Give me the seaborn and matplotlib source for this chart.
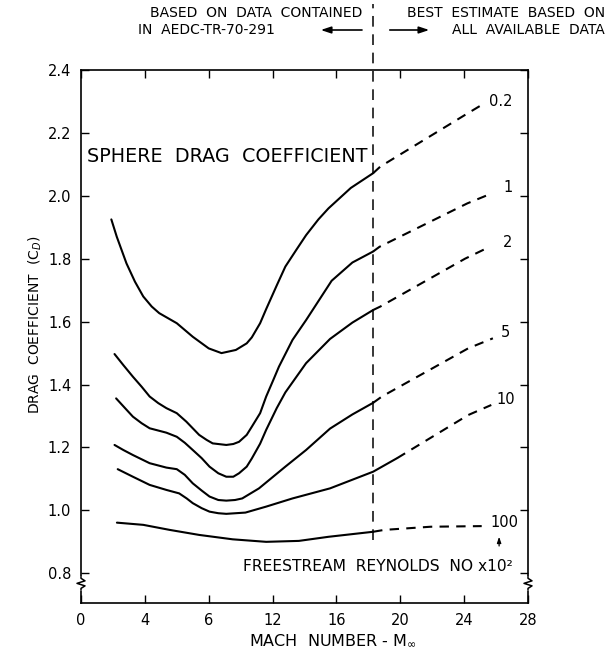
import matplotlib
matplotlib.use("Agg")
import matplotlib.pyplot as plt
import pandas as pd
import seaborn as sns

W, H = 613, 655

# Freestream Reynolds number (x10^2) of each curve
re_labels = ["0.2", "1", "2", "5", "10", "100"]

# Solid curves: data contained in AEDC-TR-70-291
mach_re02 = [1.9, 2.24, 2.85, 3.38, 3.9, 4.43, 4.9, 6.0, 7.0, 8.0, 8.8, 9.7, 10.38, 10.7,
             11.22, 11.6, 12.26, 12.8, 13.51, 14.1, 14.87, 15.5, 16.9, 18.3]
cd_re02 = [1.925, 1.870, 1.785, 1.727, 1.68, 1.648, 1.627, 1.595, 1.552, 1.515, 1.50, 1.51, 1.531, 1.55,
           1.595, 1.64, 1.715, 1.775, 1.83, 1.875, 1.925, 1.960, 2.025, 2.072]

mach_re1 = [2.1, 2.65, 3.25, 3.8, 4.3, 4.84, 5.35, 6.0, 6.6, 7.4, 7.87, 8.25, 9.1, 9.54, 9.9,
            10.38, 10.7, 11.22, 11.6, 12.05, 12.4, 13.25, 14.1, 15.7, 17.0, 18.3]
cd_re1 = [1.497, 1.462, 1.425, 1.393, 1.362, 1.341, 1.325, 1.309, 1.282, 1.240, 1.224, 1.213, 1.208, 1.211, 1.218,
          1.240, 1.266, 1.309, 1.362, 1.415, 1.457, 1.542, 1.605, 1.73, 1.788, 1.823]

mach_re2 = [2.2, 2.76, 3.25, 3.8, 4.3, 5.35, 6.0, 6.5, 7.0, 7.56, 8.05, 8.6, 9.1, 9.54, 9.9,
            10.38, 10.7, 11.22, 11.6, 12.26, 12.8, 14.1, 15.6, 17.0, 18.3]
cd_re2 = [1.356, 1.325, 1.298, 1.277, 1.261, 1.247, 1.234, 1.215, 1.192, 1.166, 1.139, 1.118, 1.107, 1.107, 1.118,
          1.139, 1.165, 1.212, 1.256, 1.325, 1.375, 1.468, 1.545, 1.597, 1.637]

mach_re5 = [2.1, 2.65, 3.25, 4.3, 5.35, 6.0, 6.5, 7.0, 7.56, 8.05, 8.6, 9.1, 9.65, 10.1,
            11.15, 12.8, 14.1, 15.6, 17.0, 18.3]
cd_re5 = [1.208, 1.192, 1.176, 1.150, 1.136, 1.131, 1.113, 1.086, 1.063, 1.044, 1.033, 1.031, 1.033, 1.038,
          1.070, 1.139, 1.192, 1.26, 1.305, 1.342]

mach_re10 = [2.3, 3.25, 4.3, 5.35, 6.15, 6.62, 7.0, 7.56, 8.05, 8.6, 9.1, 10.3, 11.6, 13.25,
             15.6, 18.3, 19.8]
cd_re10 = [1.131, 1.107, 1.081, 1.065, 1.054, 1.038, 1.023, 1.007, 0.996, 0.991, 0.989, 0.993, 1.012, 1.038,
           1.07, 1.123, 1.166]

mach_re100 = [2.25, 3.9, 5.55, 7.4, 9.5, 11.6, 13.65, 15.5, 18.3]
cd_re100 = [0.961, 0.954, 0.938, 0.922, 0.908, 0.900, 0.903, 0.916, 0.932]

# Dashed continuations: best estimate based on all available data
mach_re02_est = [18.3, 18.75, 24.05, 25.1]
cd_re02_est = [2.072, 2.093, 2.257, 2.289]

mach_re1_est = [18.3, 18.7, 24.2, 25.5]
cd_re1_est = [1.823, 1.838, 1.976, 2.003]

mach_re2_est = [18.3, 18.75, 24.05, 25.6]
cd_re2_est = [1.637, 1.648, 1.80, 1.838]

mach_re5_est = [18.3, 18.85, 24.25, 25.8]
cd_re5_est = [1.342, 1.362, 1.515, 1.547]

mach_re10_est = [19.8, 24.25, 25.7]
cd_re10_est = [1.166, 1.303, 1.335]

mach_re100_est = [18.3, 19.0, 21.9, 25.1]
cd_re100_est = [0.932, 0.938, 0.948, 0.950]

x_ticks = [0, 4, 8, 12, 16, 20, 24, 28]
x_tick_labels = ["0", "4", "6", "12", "16", "20", "24", "28"]
y_ticks = [0.8, 1.0, 1.2, 1.4, 1.6, 1.8, 2.0, 2.2, 2.4]
y_tick_labels = ["0.8", "1.0", "1.2", "1.4", "1.6", "1.8", "2.0", "2.2", "2.4"]

# Position of each curve's Reynolds-number label
label_mach = [25.55, 26.75, 26.7, 26.6, 26.6, 26.5]
label_cd = [2.30, 2.028, 1.853, 1.567, 1.351, 0.963]

boundary_mach = 18.3

solid = [(mach_re02, cd_re02), (mach_re1, cd_re1), (mach_re2, cd_re2),
         (mach_re5, cd_re5), (mach_re10, cd_re10), (mach_re100, cd_re100)]
estimate = [(mach_re02_est, cd_re02_est), (mach_re1_est, cd_re1_est),
            (mach_re2_est, cd_re2_est), (mach_re5_est, cd_re5_est),
            (mach_re10_est, cd_re10_est), (mach_re100_est, cd_re100_est)]

rows = []
for lab, (m, c) in zip(re_labels, solid):
    rows += [dict(re=lab, part="measured", mach=a, cd=b) for a, b in zip(m, c)]
for lab, (m, c) in zip(re_labels, estimate):
    rows += [dict(re=lab, part="estimate", mach=a, cd=b) for a, b in zip(m, c)]
df = pd.DataFrame(rows)

sns.set_style("ticks")
plt.rcParams["font.family"] = ["DejaVu Sans"]
plt.rcParams["mathtext.fontset"] = "dejavusans"
plt.rcParams["text.color"] = "black"
plt.rcParams["axes.labelcolor"] = "black"
plt.rcParams["xtick.color"] = "black"
plt.rcParams["ytick.color"] = "black"

fig = plt.figure(figsize=(W / 100, H / 100), dpi=100)
fig.patch.set_facecolor("white")
ax = fig.add_axes([81 / W, 1 - 603.3 / H, 447 / W, 533.3 / H])

sns.lineplot(data=df, x="mach", y="cd", hue="re", style="part",
             hue_order=re_labels, palette={k: "black" for k in re_labels},
             dashes={"measured": "", "estimate": (4.5, 3.5)},
             estimator=None, linewidth=1.5, legend=False, ax=ax)

ax.set_xlim(0, 28)
ax.set_ylim(0.7046, 2.4)
ax.set_xticks(x_ticks)
ax.set_xticklabels(x_tick_labels)
ax.set_yticks(y_ticks)
ax.set_yticklabels(y_tick_labels)
ax.tick_params(direction="in", length=6, width=1.0, top=True, right=True,
               labelsize=10.5, pad=7, colors="black")
ax.set_xlabel("")
ax.set_ylabel("")
for s in ax.spines.values():
    s.set_linewidth(1.2)
    s.set_color("black")

# boundary between report data and estimates
ax.plot([boundary_mach, boundary_mach], [0.905, 2.61], color="black", lw=1.1,
        dashes=(7, 5), clip_on=False, zorder=4)

# broken-axis marks on both vertical spines
for xb in (0, 28):
    ax.plot([xb, xb], [0.750, 0.786], color="white", lw=3, clip_on=False, zorder=5)
    ax.plot([xb, xb, xb + 0.25, xb - 0.25, xb + 0.25, xb, xb],
            [0.790, 0.784, 0.776, 0.768, 0.760, 0.752, 0.746],
            color="black", lw=1.1, clip_on=False, zorder=6)

for lab, xm, yc in zip(re_labels, label_mach, label_cd):
    ax.text(xm, yc, lab, fontsize=10.5, ha="center" if lab != "0.2" else "left",
            va="center", color="black")

ax.text(0.38, 2.124, "SPHERE  DRAG  COEFFICIENT", fontsize=13.8, ha="left",
        va="center", color="black")
ax.text(10.15, 0.823, "FREESTREAM  REYNOLDS  NO x10\u00b2", fontsize=11.2,
        ha="left", va="center", color="black")
ax.annotate("", xy=(26.19, 0.925), xytext=(26.19, 0.878),
            arrowprops=dict(arrowstyle="-|>,head_length=0.35,head_width=0.12",
                            color="black", lw=0.9))

def fx(px):
    return px / W

def fy(py):
    return 1 - py / H

fig.text(fx(333), fy(641), "MACH  NUMBER - M$_\\infty$", fontsize=11.5,
         ha="center", va="center")
fig.text(fx(35), fy(325), "DRAG  COEFFICIENT  (C$_D$)", fontsize=10,
         rotation=90, ha="center", va="center")

hdr = 10
y1, y2 = 13, 30
fig.text(fx(362), fy(y1), "BASED  ON  DATA  CONTAINED", fontsize=hdr,
         ha="right", va="center")
fig.text(fx(137.5), fy(y2), "IN  AEDC-TR-70-291", fontsize=hdr,
         ha="left", va="center")
fig.text(fx(605), fy(y1), "BEST  ESTIMATE  BASED  ON", fontsize=hdr,
         ha="right", va="center")
fig.text(fx(605), fy(y2), "ALL  AVAILABLE  DATA", fontsize=hdr,
         ha="right", va="center")
fig.add_artist(plt.Line2D([fx(330), fx(362)], [fy(y2), fy(y2)], color="black", lw=1.2))
ax.annotate("", xy=(fx(318), fy(y2)), xytext=(fx(334), fy(y2)),
            xycoords="figure fraction", textcoords="figure fraction",
            arrowprops=dict(arrowstyle="-|>,head_length=0.6,head_width=0.2",
                            color="black", lw=1.2))
ax.annotate("", xy=(fx(432), fy(y2)), xytext=(fx(387), fy(y2)),
            xycoords="figure fraction", textcoords="figure fraction",
            arrowprops=dict(arrowstyle="-|>,head_length=0.6,head_width=0.2",
                            color="black", lw=1.2))

fig.savefig("out.png", dpi=100, facecolor="white")
